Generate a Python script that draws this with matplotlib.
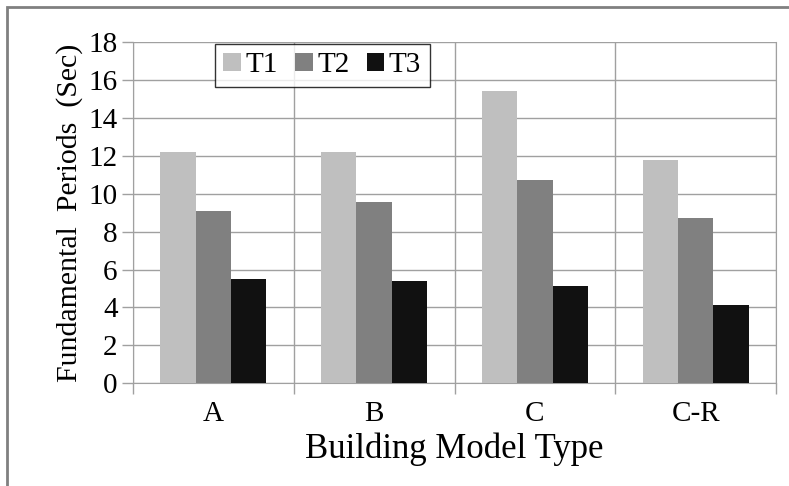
import matplotlib.pyplot as plt
import matplotlib.patches as mpatches
import numpy as np

plt.rcParams['font.family'] = ['Liberation Serif', 'DejaVu Serif']

models = ['A', 'B', 'C', 'C-R']
t1 = [12.2, 12.2, 15.4, 11.8]
t2 = [9.1, 9.55, 10.7, 8.7]
t3 = [5.5, 5.4, 5.15, 4.15]
series = ['T1', 'T2', 'T3']
colors = ['#bfbfbf', '#808080', '#111111']

fig = plt.figure(figsize=(7.89, 4.86), dpi=100)
ax = fig.add_axes([0.1686, 0.2113, 0.8149, 0.7023])

x = np.arange(len(models))
w = 0.22
for i, (vals, name, c) in enumerate(zip([t1, t2, t3], series, colors)):
    ax.bar(x + (i - 1) * w, vals, w, color=c, label=name, zorder=3)

ax.set_xlim(-0.5, len(models) - 0.5)
ax.set_ylim(0, 18)
ax.set_yticks(np.arange(0, 19, 2))
ax.set_xticks(x)
ax.set_xticklabels(models)
ax.set_xticks(np.arange(-0.5, len(models), 1), minor=True)

gcol = '#a0a0a0'
ax.grid(axis='y', which='major', color=gcol, linewidth=1, zorder=0)
ax.grid(axis='x', which='minor', color=gcol, linewidth=1, zorder=0)
ax.tick_params(axis='x', which='major', length=0, labelsize=21, pad=13)
ax.tick_params(axis='x', which='minor', length=8, color=gcol, width=1)
ax.tick_params(axis='y', length=8, color=gcol, width=1, labelsize=21, pad=3)
for s in ['left', 'bottom', 'right']:
    ax.spines[s].set_color(gcol)
ax.spines['top'].set_visible(False)

ax.set_ylabel('Fundamental  Periods  (Sec)', fontsize=21.5, labelpad=4)
ax.set_xlabel('Building Model Type', fontsize=25, labelpad=4)

leg = ax.legend(loc='upper left', bbox_to_anchor=(0.127, 0.995), ncol=3,
                fontsize=21, frameon=True, fancybox=False, handlelength=0.6,
                handleheight=0.6, handletextpad=0.15, columnspacing=0.6,
                borderpad=0.3, borderaxespad=0)
leg.get_frame().set_edgecolor('black')
leg.get_frame().set_linewidth(1)

# outer border of the figure
fig.patches.append(mpatches.Rectangle((0.0095, -0.05), 1.2, 1.036,
                                      transform=fig.transFigure, fill=False,
                                      edgecolor='#808080', linewidth=2))

fig.savefig('out.png', dpi=100)
